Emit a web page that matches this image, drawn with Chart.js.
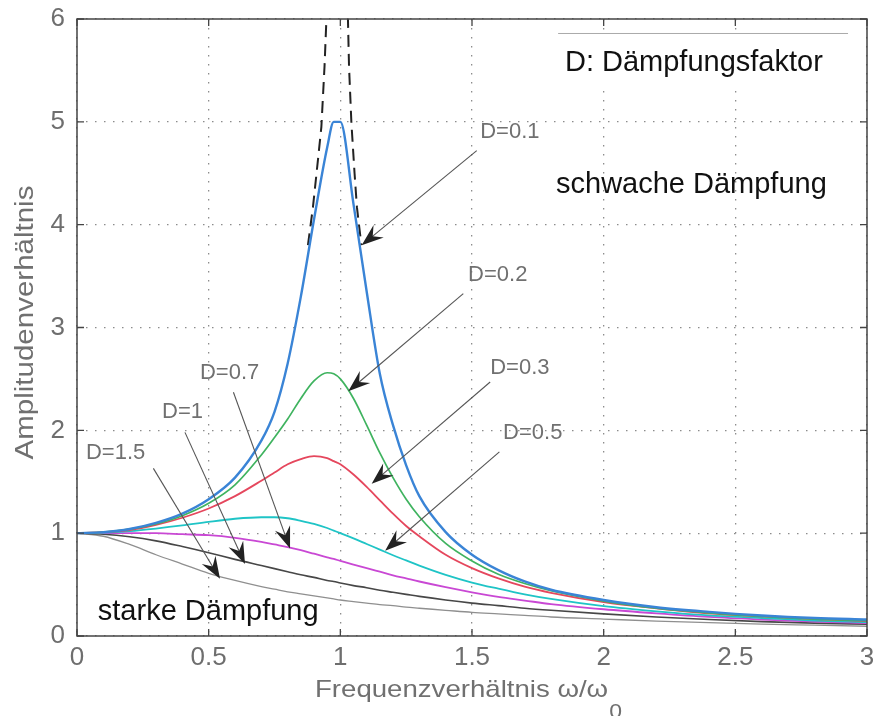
<!DOCTYPE html>
<html>
<head>
<meta charset="utf-8">
<script src="https://cdn.jsdelivr.net/npm/chart.js@4/dist/chart.umd.min.js"></script>
<style>
  html, body { margin: 0; padding: 0; background: #fff; }
</style>
</head>
<body>
<canvas id="chart" width="873" height="716"></canvas>
<script>
// 横軸: 振動数比 ω/ω0
const eta = [0, 0.1, 0.2, 0.3, 0.4, 0.5, 0.6, 0.7, 0.75, 0.8, 0.85, 0.9, 0.95, 0.975, 1.0,
  1.05, 1.1, 1.15, 1.2, 1.25, 1.3, 1.4, 1.5, 1.6, 1.7, 1.8, 2.0, 2.2, 2.4, 2.6, 2.8, 3.0];

// 振幅比
const ampD01 = [1.00, 1.01, 1.04, 1.10, 1.19, 1.33, 1.54, 1.90, 2.18, 2.65, 3.30, 4.05, 4.75, 5.00, 5.00,
  4.20, 3.35, 2.55, 2.05, 1.66, 1.36, 1.01, 0.79, 0.64, 0.53, 0.45, 0.35, 0.28, 0.235, 0.20, 0.175, 0.16];
const ampD02 = [1.00, 1.01, 1.04, 1.09, 1.17, 1.29, 1.47, 1.76, 1.93, 2.11, 2.31, 2.48, 2.56, 2.55, 2.50,
  2.31, 2.05, 1.78, 1.54, 1.33, 1.16, 0.90, 0.73, 0.60, 0.51, 0.44, 0.34, 0.27, 0.225, 0.19, 0.165, 0.15];
const ampD03 = [1.00, 1.01, 1.03, 1.08, 1.15, 1.24, 1.36, 1.51, 1.59, 1.67, 1.72, 1.75, 1.73, 1.70, 1.67,
  1.57, 1.45, 1.32, 1.19, 1.07, 0.97, 0.79, 0.66, 0.56, 0.48, 0.42, 0.33, 0.27, 0.22, 0.19, 0.165, 0.145];
const ampD05 = [1.00, 1.005, 1.02, 1.045, 1.075, 1.11, 1.14, 1.155, 1.155, 1.145, 1.12, 1.09, 1.05, 1.025, 1.00,
  0.95, 0.895, 0.84, 0.785, 0.735, 0.685, 0.595, 0.52, 0.46, 0.405, 0.36, 0.29, 0.24, 0.20, 0.175, 0.15, 0.135];
const ampD07 = [1.00, 1.00, 1.00, 1.00, 0.99, 0.98, 0.955, 0.915, 0.89, 0.865, 0.835, 0.80, 0.765, 0.75, 0.73,
  0.695, 0.66, 0.625, 0.59, 0.56, 0.53, 0.475, 0.425, 0.38, 0.345, 0.31, 0.26, 0.22, 0.185, 0.16, 0.14, 0.125];
const ampD10 = [1.00, 0.99, 0.965, 0.925, 0.87, 0.81, 0.745, 0.685, 0.655, 0.625, 0.595, 0.57, 0.54, 0.53, 0.515,
  0.49, 0.47, 0.445, 0.425, 0.405, 0.385, 0.35, 0.32, 0.295, 0.27, 0.25, 0.215, 0.185, 0.16, 0.14, 0.125, 0.115];
const ampD15 = [1.00, 0.97, 0.89, 0.79, 0.70, 0.61, 0.54, 0.48, 0.455, 0.43, 0.41, 0.39, 0.37, 0.36, 0.35,
  0.335, 0.32, 0.305, 0.295, 0.28, 0.27, 0.25, 0.23, 0.215, 0.20, 0.185, 0.165, 0.145, 0.13, 0.115, 0.105, 0.095];

// 減衰なし（破線）: 共振点の左右
const undampedEta = [0.877, 0.896, 0.915, 0.928, 0.940, 0.947, 0.952, 0.99, 1.027, 1.029, 1.033, 1.042, 1.054, 1.063, 1.080];
const undampedAmp = [3.80, 4.17, 4.63, 4.95, 5.54, 5.99, 6.40, null, 6.40, 5.99, 5.54, 4.99, 4.50, 4.17, 3.80];

// 目盛り
const xTicks = [0, 0.5, 1, 1.5, 2, 2.5, 3];
const yTicks = [0, 1, 2, 3, 4, 5, 6];

// 注記（ラベルと矢印）
const labelTexts = ["D=0.1", "D=0.2", "D=0.3", "D=0.5", "D=0.7", "D=1", "D=1.5"];
const labelEta = [1.531, 1.485, 1.569, 1.618, 0.467, 0.323, 0.034];
const labelAmp = [4.90, 3.51, 2.61, 1.97, 2.556, 2.18, 1.777];
const arrowFromEta = [1.518, 1.467, 1.569, 1.604, 0.594, 0.410, 0.290];
const arrowFromAmp = [4.72, 3.33, 2.47, 1.79, 2.37, 1.98, 1.63];
const arrowToEta = [1.081, 1.030, 1.119, 1.170, 0.809, 0.638, 0.543];
const arrowToAmp = [3.80, 2.38, 1.48, 0.83, 0.85, 0.70, 0.557];

const noteTexts = ["D: Dämpfungsfaktor", "schwache Dämpfung", "starke Dämpfung"];
const noteEta = [1.853, 1.819, 0.079];
const noteAmp = [5.497, 4.311, 0.156];

const curves = [
  { label: "D=0.1", data: ampD01, color: "#3a84d6", width: 2.4 },
  { label: "D=0.2", data: ampD02, color: "#3fb35f", width: 1.7 },
  { label: "D=0.3", data: ampD03, color: "#e5475d", width: 1.8 },
  { label: "D=0.5", data: ampD05, color: "#1fc4c6", width: 1.8 },
  { label: "D=0.7", data: ampD07, color: "#c948d4", width: 1.8 },
  { label: "D=1", data: ampD10, color: "#474747", width: 1.6 },
  { label: "D=1.5", data: ampD15, color: "#8f8f8f", width: 1.3 },
];

const FONT = "'Liberation Sans', Arial, sans-serif";

function toPoints(xs, ys) {
  return xs.map((x, i) => ({ x: x, y: ys[i] }));
}

const datasets = curves.map((c) => ({
  label: c.label,
  data: toPoints(eta, c.data),
  borderColor: c.color,
  borderWidth: c.width,
  pointRadius: 0,
  cubicInterpolationMode: "monotone",
  fill: false,
}));

datasets.push({
  label: "D=0",
  data: toPoints(undampedEta, undampedAmp),
  borderColor: "#222",
  borderWidth: 2,
  borderDash: [12, 7],
  pointRadius: 0,
  tension: 0,
  spanGaps: false,
  fill: false,
});

// 矢印の描画
function drawArrow(ctx, x1, y1, x2, y2) {
  const dx = x2 - x1, dy = y2 - y1;
  const len = Math.hypot(dx, dy);
  const ux = dx / len, uy = dy / len;
  const nx = -uy, ny = ux;
  const L = 22, W = 8;
  ctx.save();
  ctx.strokeStyle = "#555";
  ctx.lineWidth = 1.1;
  ctx.beginPath();
  ctx.moveTo(x1, y1);
  ctx.lineTo(x2 - ux * L * 0.6, y2 - uy * L * 0.6);
  ctx.stroke();
  ctx.fillStyle = "#222";
  ctx.beginPath();
  ctx.moveTo(x2, y2);
  ctx.lineTo(x2 - ux * L + nx * W, y2 - uy * L + ny * W);
  ctx.lineTo(x2 - ux * L * 0.65, y2 - uy * L * 0.65);
  ctx.lineTo(x2 - ux * L - nx * W, y2 - uy * L - ny * W);
  ctx.closePath();
  ctx.fill();
  ctx.restore();
}

const annotatePlugin = {
  id: "annotate",
  beforeDatasetsDraw(chart) {
    const { ctx, scales: { x, y } } = chart;
    // 白地ボックス（グリッドを隠す）
    const bx1 = x.getPixelForValue(1.827), bx2 = x.getPixelForValue(2.928);
    const by1 = y.getPixelForValue(5.864), by2 = y.getPixelForValue(5.329);
    ctx.save();
    ctx.fillStyle = "#fff";
    ctx.fillRect(bx1, by1, bx2 - bx1, by2 - by1);
    ctx.strokeStyle = "#aaa";
    ctx.lineWidth = 1;
    ctx.beginPath();
    ctx.moveTo(bx1, by1 + 0.5);
    ctx.lineTo(bx2, by1 + 0.5);
    ctx.stroke();
    ctx.restore();
  },
  afterDatasetsDraw(chart) {
    const { ctx, chartArea: a, scales: { x, y } } = chart;
    ctx.save();

    // 枠と内向き目盛り
    ctx.strokeStyle = "#444";
    ctx.lineWidth = 1.5;
    ctx.strokeRect(a.left, a.top, a.right - a.left, a.bottom - a.top);
    ctx.lineWidth = 1.3;
    ctx.beginPath();
    xTicks.forEach((v) => {
      const px = x.getPixelForValue(v);
      ctx.moveTo(px, a.bottom); ctx.lineTo(px, a.bottom - 7);
      ctx.moveTo(px, a.top); ctx.lineTo(px, a.top + 7);
    });
    yTicks.forEach((v) => {
      const py = y.getPixelForValue(v);
      ctx.moveTo(a.left, py); ctx.lineTo(a.left + 7, py);
      ctx.moveTo(a.right, py); ctx.lineTo(a.right - 7, py);
    });
    ctx.stroke();

    // 矢印
    labelTexts.forEach((t, i) => {
      drawArrow(ctx,
        x.getPixelForValue(arrowFromEta[i]), y.getPixelForValue(arrowFromAmp[i]),
        x.getPixelForValue(arrowToEta[i]), y.getPixelForValue(arrowToAmp[i]));
    });

    // D= ラベル
    ctx.fillStyle = "#707070";
    ctx.font = "22px " + FONT;
    ctx.textAlign = "left";
    ctx.textBaseline = "middle";
    labelTexts.forEach((t, i) => {
      ctx.fillText(t, x.getPixelForValue(labelEta[i]), y.getPixelForValue(labelAmp[i]));
    });

    // 黒い注記
    ctx.fillStyle = "#111";
    ctx.font = "29px " + FONT;
    ctx.textBaseline = "alphabetic";
    noteTexts.forEach((t, i) => {
      ctx.fillText(t, x.getPixelForValue(noteEta[i]), y.getPixelForValue(noteAmp[i]));
    });

    // 軸タイトル
    ctx.fillStyle = "#707070";
    ctx.font = "24px " + FONT;
    const xt = "Frequenzverhältnis ω/ω";
    const xl = a.left + 238, xb = a.bottom + 61;
    ctx.save();
    ctx.translate(xl, xb);
    ctx.scale(1.15, 1);
    ctx.fillText(xt, 0, 0);
    const w = ctx.measureText(xt).width;
    ctx.font = "20px " + FONT;
    ctx.fillText("0", w + 1, 21);
    ctx.restore();

    ctx.font = "25px " + FONT;
    ctx.save();
    ctx.translate(a.left - 44, (a.top + a.bottom) / 2 - 5);
    ctx.rotate(-Math.PI / 2);
    ctx.scale(1.18, 1);
    ctx.textAlign = "center";
    ctx.fillText("Amplitudenverhältnis", 0, 0);
    ctx.restore();

    ctx.restore();
  },
};

new Chart(document.getElementById("chart"), {
  type: "line",
  data: { datasets: datasets },
  plugins: [annotatePlugin],
  options: {
    responsive: false,
    animation: false,
    layout: { padding: { top: 19, right: 6, left: 0, bottom: 0 } },
    plugins: {
      legend: { display: false },
      tooltip: { enabled: false },
    },
    scales: {
      x: {
        type: "linear",
        min: 0,
        max: 3,
        afterBuildTicks: (s) => { s.ticks = xTicks.map((v) => ({ value: v })); },
        afterFit: (s) => { s.height = 80; s.paddingLeft = 0; s.paddingRight = 0; },
        ticks: {
          color: "#6e6e6e",
          font: { family: FONT, size: 26 },
          padding: 6,
          maxRotation: 0,
          callback: (v) => String(v),
        },
        grid: { color: "#8c8c8c", lineWidth: 1.3, drawTicks: false },
        border: { display: false, dash: [1.5, 7.5] },
      },
      y: {
        min: 0,
        max: 6,
        afterBuildTicks: (s) => { s.ticks = yTicks.map((v) => ({ value: v })); },
        afterFit: (s) => { s.width = 77; s.paddingTop = 0; s.paddingBottom = 0; },
        ticks: {
          color: "#6e6e6e",
          font: { family: FONT, size: 26 },
          padding: 12,
          callback: (v) => String(v),
        },
        grid: { color: "#8c8c8c", lineWidth: 1.3, drawTicks: false },
        border: { display: false, dash: [1.5, 7.5] },
      },
    },
  },
});
</script>
</body>
</html>
